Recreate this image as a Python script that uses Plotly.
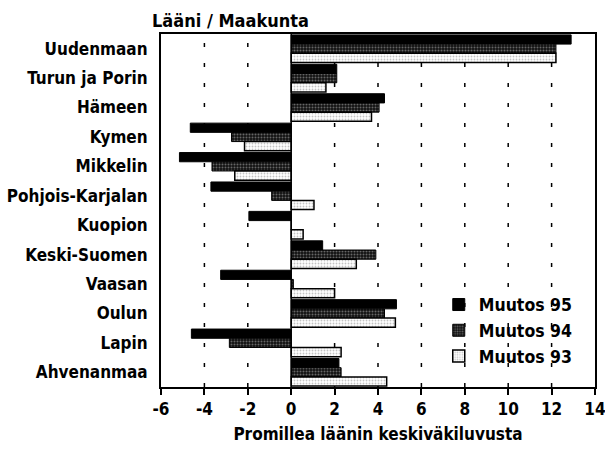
import plotly.graph_objects as go

categories = ["Uudenmaan", "Turun ja Porin", "Hämeen", "Kymen", "Mikkelin",
              "Pohjois-Karjalan", "Kuopion", "Keski-Suomen", "Vaasan", "Oulun",
              "Lapin", "Ahvenanmaa"]
muutos95 = [12.9, 2.1, 4.3, -4.65, -5.15, -3.7, -1.95, 1.45, -3.25, 4.85, -4.6, 2.2]
muutos94 = [12.2, 2.1, 4.05, -2.75, -3.65, -0.9, 0.0, 3.9, 0.1, 4.3, -2.85, 2.3]
muutos93 = [12.2, 1.6, 3.7, -2.15, -2.6, 1.05, 0.55, 3.0, 2.0, 4.8, 2.3, 4.4]
xticks = [-6, -4, -2, 0, 2, 4, 6, 8, 10, 12, 14]

FONT = "DejaVu Sans Condensed, DejaVu Sans, sans-serif"

fig = go.Figure()
fig.add_trace(go.Bar(y=categories, x=muutos95, orientation="h", name="Muutos 95",
                     marker=dict(color="black", line=dict(color="black", width=1))))
fig.add_trace(go.Bar(y=categories, x=muutos94, orientation="h", name="Muutos 94",
                     marker=dict(color="black", line=dict(color="black", width=1),
                                 pattern=dict(shape=".", fgcolor="#bbbbbb", bgcolor="#111111",
                                              size=3, solidity=0.35))))
fig.add_trace(go.Bar(y=categories, x=muutos93, orientation="h", name="Muutos 93",
                     marker=dict(color="white", line=dict(color="black", width=1.5),
                                 pattern=dict(shape=".", fgcolor="#888888", bgcolor="white",
                                              size=3, solidity=0.3))))

grid_x = [v for v in xticks if v not in (xticks[0], 0, xticks[-1])]
for v in grid_x:
    fig.add_shape(type="line", x0=v, x1=v, y0=0, y1=1, yref="paper",
                  line=dict(color="black", width=1.5, dash="4px,16px"), layer="below")
fig.add_shape(type="line", x0=0, x1=0, y0=0, y1=1, yref="paper",
              line=dict(color="black", width=1.5), layer="above")

fig.update_layout(
    width=605, height=451,
    margin=dict(l=161, r=10, t=34, b=64, autoexpand=False),
    paper_bgcolor="white", plot_bgcolor="white",
    barmode="group", bargap=0.06, bargroupgap=0.0,
    font=dict(family=FONT, color="black", size=15, weight="bold"),
    xaxis=dict(range=[-6, 14], tickvals=xticks, ticktext=[str(v) for v in xticks],
               showgrid=False, zeroline=False, showline=True, mirror=True,
               linecolor="black", linewidth=2, ticks="outside", ticklen=6,
               tickcolor="black", tickwidth=1.5, automargin=False,
               ticklabeloverflow="allow",
               tickfont=dict(size=17, family=FONT, weight="bold"),
               title=dict(text="Promillea läänin keskiväkiluvusta",
                          font=dict(size=17, family=FONT, weight="bold"), standoff=10)),
    yaxis=dict(autorange="reversed", showgrid=False, zeroline=False, showline=True,
               mirror=True, linecolor="black", linewidth=2, ticks="", automargin=False,
               ticklabelstandoff=8,
               tickfont=dict(size=17, family=FONT, weight="bold")),
    legend=dict(x=0.64, y=0.035, xanchor="left", yanchor="bottom",
                bgcolor="rgba(0,0,0,0)", traceorder="normal",
                font=dict(size=17.5, family=FONT, weight="bold"),
                itemwidth=30, tracegroupgap=2),
    showlegend=True,
)
fig.add_annotation(text="Lääni / Maakunta", xref="paper", yref="paper", x=-0.025, y=1.0,
                   xanchor="left", yanchor="bottom", showarrow=False, yshift=1,
                   font=dict(size=18, family=FONT, weight="bold"))

fig.write_html("out.html", config={"displayModeBar": False},
               post_script="document.body.style.margin='0px';")
